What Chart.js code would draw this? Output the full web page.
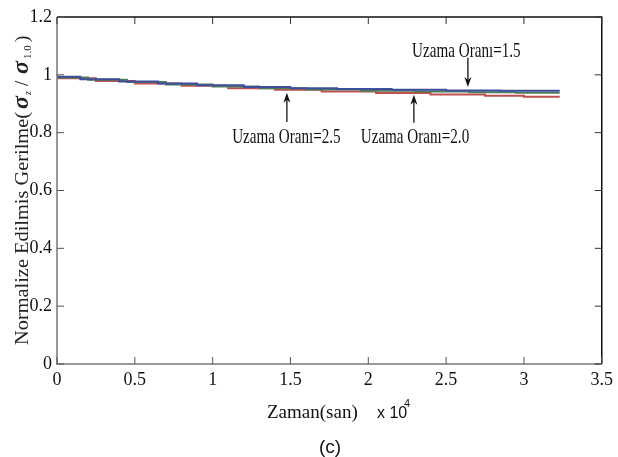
<!DOCTYPE html>
<html>
<head>
<meta charset="utf-8">
<script src="https://cdn.jsdelivr.net/npm/chart.js@4/dist/chart.umd.min.js"></script>
<style>
  html, body { margin: 0; padding: 0; background: #fff; }
  #wrap { width: 618px; height: 457px; position: relative; }
</style>
</head>
<body>
<div id="wrap"><canvas id="stressChart"></canvas></div>
<script>
// time in units of 10^4 s, stress normalised to sigma at t=0
var time15 = [0, 0.15, 0.4, 0.65, 0.9, 1.2, 1.5, 1.8, 2.15, 2.5, 2.85, 3.23];
var ratio15 = [1.000, 0.993, 0.985, 0.977, 0.970, 0.964, 0.958, 0.954, 0.951, 0.948, 0.946, 0.945];

var time20 = [0, 0.2, 0.45, 0.7, 1.0, 1.3, 1.6, 1.95, 2.3, 2.65, 2.95, 3.23];
var ratio20 = [1.000, 0.991, 0.983, 0.975, 0.967, 0.960, 0.954, 0.949, 0.945, 0.942, 0.940, 0.938];

var time25 = [0, 0.25, 0.5, 0.8, 1.1, 1.4, 1.7, 2.05, 2.4, 2.75, 3.0, 3.23];
var ratio25 = [1.000, 0.988, 0.979, 0.970, 0.962, 0.954, 0.948, 0.942, 0.937, 0.932, 0.928, 0.924];

var xTicks = [0, 0.5, 1, 1.5, 2, 2.5, 3, 3.5];
var yTicks = [0, 0.2, 0.4, 0.6, 0.8, 1, 1.2];

var seriesNames = ['Uzama Oranı=1.5', 'Uzama Oranı=2.0', 'Uzama Oranı=2.5'];

function toPoints(xs, ys) {
	return xs.map(function (x, i) { return { x: x, y: ys[i] }; });
}

// text + arrow notes, in data units
var notes = [
	{ text: seriesNames[0], tx: 2.63, ty: 1.08, ax: 2.64, from: 1.059, to: 0.958 },
	{ text: seriesNames[1], tx: 2.30, ty: 0.785, ax: 2.293, from: 0.834, to: 0.931 },
	{ text: seriesNames[2], tx: 1.474, ty: 0.785, ax: 1.477, from: 0.837, to: 0.938 }
];

var serif = '"Liberation Serif", "Times New Roman", serif';
var narrow = '"Liberation Sans Narrow", "Liberation Sans", sans-serif';

function tickText(v) {
	return String(Math.round(v * 10) / 10);
}

function arrow(ctx, x, y1, y2) {
	var dir = y2 > y1 ? 1 : -1;
	ctx.beginPath();
	ctx.moveTo(x, y1);
	ctx.lineTo(x, y2 - dir * 4);
	ctx.stroke();
	ctx.beginPath();
	ctx.moveTo(x, y2);
	ctx.lineTo(x - 3.5, y2 - dir * 10);
	ctx.lineTo(x, y2 - dir * 7);
	ctx.lineTo(x + 3.5, y2 - dir * 10);
	ctx.closePath();
	ctx.fill();
}

var matlabFrame = {
	id: 'matlabFrame',
	afterDraw: function (chart) {
		var ctx = chart.ctx;
		var a = chart.chartArea;
		var xs = chart.scales.x, ys = chart.scales.y;
		ctx.save();

		// box: left/bottom grey, top/right black
		ctx.lineWidth = 1.5;
		ctx.strokeStyle = '#111';
		ctx.beginPath();
		ctx.moveTo(a.left, a.top); ctx.lineTo(a.right, a.top); ctx.lineTo(a.right, a.bottom);
		ctx.stroke();
		ctx.strokeStyle = '#777';
		ctx.beginPath();
		ctx.moveTo(a.left, a.top); ctx.lineTo(a.left, a.bottom); ctx.lineTo(a.right, a.bottom);
		ctx.stroke();

		// inward ticks
		ctx.lineWidth = 1;
		xTicks.forEach(function (v) {
			var px = xs.getPixelForValue(v);
			ctx.strokeStyle = '#555';
			ctx.beginPath(); ctx.moveTo(px, a.bottom); ctx.lineTo(px, a.bottom - 7); ctx.stroke();
			ctx.strokeStyle = '#333';
			ctx.beginPath(); ctx.moveTo(px, a.top); ctx.lineTo(px, a.top + 7); ctx.stroke();
		});
		yTicks.forEach(function (v) {
			var py = ys.getPixelForValue(v);
			ctx.strokeStyle = '#555';
			ctx.beginPath(); ctx.moveTo(a.left, py); ctx.lineTo(a.left + 7, py); ctx.stroke();
			ctx.strokeStyle = '#333';
			ctx.beginPath(); ctx.moveTo(a.right, py); ctx.lineTo(a.right - 7, py); ctx.stroke();
		});

		// notes with arrows
		ctx.fillStyle = '#111';
		ctx.strokeStyle = '#111';
		ctx.lineWidth = 1.3;
		notes.forEach(function (n) {
			var cx = xs.getPixelForValue(n.tx), cy = ys.getPixelForValue(n.ty);
			ctx.save();
			ctx.translate(cx, cy);
			ctx.scale(0.72, 1);
			ctx.font = '21px ' + serif;
			ctx.textAlign = 'center';
			ctx.textBaseline = 'middle';
			ctx.fillText(n.text, 0, 0);
			ctx.restore();
			arrow(ctx, xs.getPixelForValue(n.ax), ys.getPixelForValue(n.from), ys.getPixelForValue(n.to));
		});

		// x title
		ctx.fillStyle = '#111';
		ctx.textAlign = 'left';
		ctx.textBaseline = 'alphabetic';
		ctx.font = '19px ' + serif;
		ctx.fillText('Zaman(san)', 267, 418);
		ctx.font = '16px ' + narrow;
		ctx.fillText('x 10', 377, 418);
		ctx.font = '11px ' + narrow;
		ctx.fillText('4', 404, 407);
		ctx.font = '19px ' + narrow;
		ctx.textAlign = 'center';
		ctx.fillText('(c)', 330, 453);

		// y title, rotated
		ctx.save();
		ctx.translate(28, 345);
		ctx.rotate(-Math.PI / 2);
		ctx.textAlign = 'left';
		ctx.fillStyle = '#222';
		var head = 'Normalize Edilmis Gerilme(';
		ctx.font = '19px ' + serif;
		var headW = 233;
		ctx.save();
		ctx.scale(headW / ctx.measureText(head).width, 1);
		ctx.fillText(head, 0, 0);
		ctx.restore();
		var b = headW;
		ctx.font = 'italic bold 24px ' + serif;
		ctx.fillText('\u03C3', b + 3, 0);
		ctx.font = 'italic 10px ' + serif;
		ctx.fillText('z', b + 17, 3);
		ctx.font = '19px ' + serif;
		ctx.fillText('/', b + 26, 0);
		ctx.font = 'italic bold 24px ' + serif;
		ctx.fillText('\u03C3', b + 38, 0);
		ctx.font = '11px ' + serif;
		ctx.fillText('1.0', b + 53, 3);
		ctx.font = '19px ' + serif;
		ctx.fillText(')', b + 70, 0);
		ctx.restore();

		ctx.restore();
	}
};

var ctxStress = document.getElementById('stressChart').getContext('2d');
var stressChart = new Chart(ctxStress, {
	type: 'line',
	data: {
		datasets: [{
			label: seriesNames[0],
			data: toPoints(time15, ratio15),
			borderColor: '#3d4f9c',
			borderWidth: 2,
			stepped: 'after',
			pointRadius: 0,
			fill: false
		}, {
			label: seriesNames[1],
			data: toPoints(time20, ratio20),
			borderColor: '#4e7d5c',
			borderWidth: 2,
			stepped: 'after',
			pointRadius: 0,
			fill: false
		}, {
			label: seriesNames[2],
			data: toPoints(time25, ratio25),
			borderColor: '#c0504d',
			borderWidth: 2,
			stepped: 'after',
			pointRadius: 0,
			fill: false
		}]
	},
	options: {
		responsive: true,
		maintainAspectRatio: false,
		animation: false,
		layout: { padding: { top: 17, right: 16, left: 0, bottom: 0 } },
		plugins: {
			legend: { display: false },
			tooltip: { enabled: false }
		},
		scales: {
			x: {
				type: 'linear',
				min: 0,
				max: 3.5,
				afterBuildTicks: function (s) { s.ticks = xTicks.map(function (v) { return { value: v }; }); },
				ticks: { font: { family: serif, size: 18 }, color: '#111', padding: 5, maxRotation: 0, callback: tickText },
				grid: { display: false, drawTicks: false },
				border: { display: false },
				afterFit: function (s) { s.height = 93; }
			},
			y: {
				min: 0,
				max: 1.2,
				afterBuildTicks: function (s) { s.ticks = yTicks.map(function (v) { return { value: v }; }); },
				ticks: { font: { family: serif, size: 18 }, color: '#111', padding: 5, callback: tickText },
				grid: { display: false, drawTicks: false },
				border: { display: false },
				afterFit: function (s) { s.width = 57; }
			}
		}
	},
	plugins: [matlabFrame]
});
</script>
</body>
</html>
